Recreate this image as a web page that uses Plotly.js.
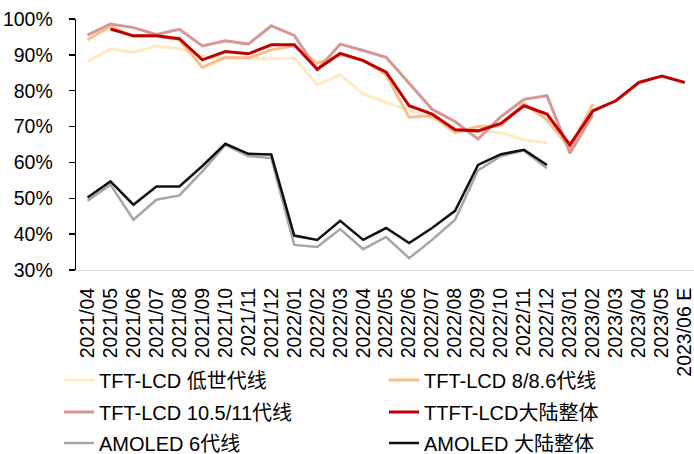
<!DOCTYPE html>
<html>
<head>
<meta charset="utf-8">
<script src="https://cdn.plot.ly/plotly-3.0.1.min.js"></script>
<style>html,body{margin:0;padding:0;background:#fff;}#chart{width:694px;height:454px;}</style>
</head>
<body>
<div id="chart"></div>
<script>
var months = ["2021/04","2021/05","2021/06","2021/07","2021/08","2021/09","2021/10","2021/11","2021/12",
  "2022/01","2022/02","2022/03","2022/04","2022/05","2022/06","2022/07","2022/08","2022/09","2022/10","2022/11","2022/12",
  "2023/01","2023/02","2023/03","2023/04","2023/05","2023/06 E"];

var lcdLowGen = [88.1,91.6,90.7,92.5,91.8,89.6,89.0,88.9,88.9,
  89.1,81.6,84.4,79.1,76.8,74.6,72.3,69.3,68.6,68.3,66.3,65.5,
  null,null,null,null,null,null];
var lcd8 = [94.2,97.9,95.1,95.3,94.2,86.5,89.3,89.1,91.4,
  92.5,87.7,90.0,88.6,84.4,72.6,73.0,68.3,70.0,70.2,76.5,71.9,
  64.0,76.3,null,null,null,null];
var lcd105 = [95.5,98.6,97.6,95.7,97.1,92.5,93.9,93.0,98.1,
  95.4,85.8,93.0,91.2,89.3,82.1,74.8,71.4,66.5,72.8,77.6,78.6,
  62.6,73.3,null,null,null,null];
var lcdTotal = [null,97.2,95.3,95.3,94.5,88.6,90.9,90.3,92.8,
  92.8,86.0,90.4,88.4,85.2,75.8,73.5,69.1,68.8,70.9,75.8,73.5,
  64.9,74.4,77.2,82.3,84.1,82.3];
var amoled6 = [49.3,53.8,44.0,49.6,50.8,57.5,64.9,61.8,61.2,
  37.0,36.4,41.4,35.8,39.2,33.3,38.4,44.0,57.8,61.8,63.3,58.4,
  null,null,null,null,null,null];
var amoledTotal = [50.2,54.7,48.2,53.3,53.3,59.0,65.2,62.4,62.2,
  39.6,38.4,43.7,38.4,41.7,37.5,41.7,46.5,59.3,62.3,63.5,59.3,
  null,null,null,null,null,null];

var seriesNames = ["TFT-LCD 低世代线","TFT-LCD 8/8.6代线","TFT-LCD 10.5/11代线","TTFT-LCD大陆整体","AMOLED 6代线","AMOLED 大陆整体"];

function pct(a){ return a.map(function(v){ return v === null ? null : v/100; }); }

var FONT = "Liberation Sans, Arial, Noto Sans CJK SC, sans-serif";
var specs = [
  {y: lcdLowGen, color: "#FFEBC2", w: 3},
  {y: lcd8, color: "#F9BF8F", w: 3},
  {y: lcd105, color: "#D99694", w: 3},
  {y: lcdTotal, color: "#C00000", w: 3},
  {y: amoled6, color: "#A6A6A6", w: 2.5},
  {y: amoledTotal, color: "#111111", w: 2.5}
];
var legendIds = ["legend","legend2","legend3","legend4","legend5","legend6"];
var traces = specs.map(function(s, i){
  return {
    type: "scatter", mode: "lines", x: months, y: pct(s.y), name: seriesNames[i],
    line: {color: s.color, width: s.w}, connectgaps: false, legend: legendIds[i],
    hoverinfo: "skip"
  };
});

// legend slots: [left px of legend box, row centre px]
var legendSlots = [[59,380],[384,380],[59,412],[384,412],[59,443],[384,443]];
function leg(slot){
  return {
    orientation: "h", xref: "container", yref: "container",
    x: slot[0]/694, xanchor: "left", y: 1 - slot[1]/454, yanchor: "middle",
    font: {family: FONT, size: 20, color: "#000"}, bgcolor: "rgba(0,0,0,0)",
    borderwidth: 0, itemclick: false
  };
}

var layout = {
  width: 694, height: 454,
  margin: {l: 76, r: 0, t: 19, b: 184, pad: 0},
  paper_bgcolor: "#fff", plot_bgcolor: "#fff",
  font: {family: FONT, size: 19.5, color: "#000"},
  showlegend: true,
  xaxis: {
    type: "category", range: [-0.5, 26.4], tickangle: -90, automargin: false,
    tickmode: "array", tickvals: months, ticktext: months,
    showgrid: false, zeroline: false, showline: true, linecolor: "#D9D9D9", linewidth: 1,
    ticks: "", ticklabelstandoff: 9, tickfont: {family: FONT, size: 19.5, color: "#000"},
    fixedrange: true
  },
  yaxis: {
    range: [0.3, 1.0], dtick: 0.1, tick0: 0.3, tickformat: ".0%", automargin: false,
    showgrid: false, zeroline: false, showline: true, linecolor: "#000", linewidth: 1.3,
    ticks: "outside", ticklen: 6, tickwidth: 1.3, tickcolor: "#000",
    ticklabelstandoff: 12, tickfont: {family: FONT, size: 19.5, color: "#000"},
    fixedrange: true
  }
};
legendIds.forEach(function(id, i){ layout[id] = leg(legendSlots[i]); });

Plotly.newPlot("chart", traces, layout, {displayModeBar: false, staticPlot: true});
</script>
</body>
</html>
